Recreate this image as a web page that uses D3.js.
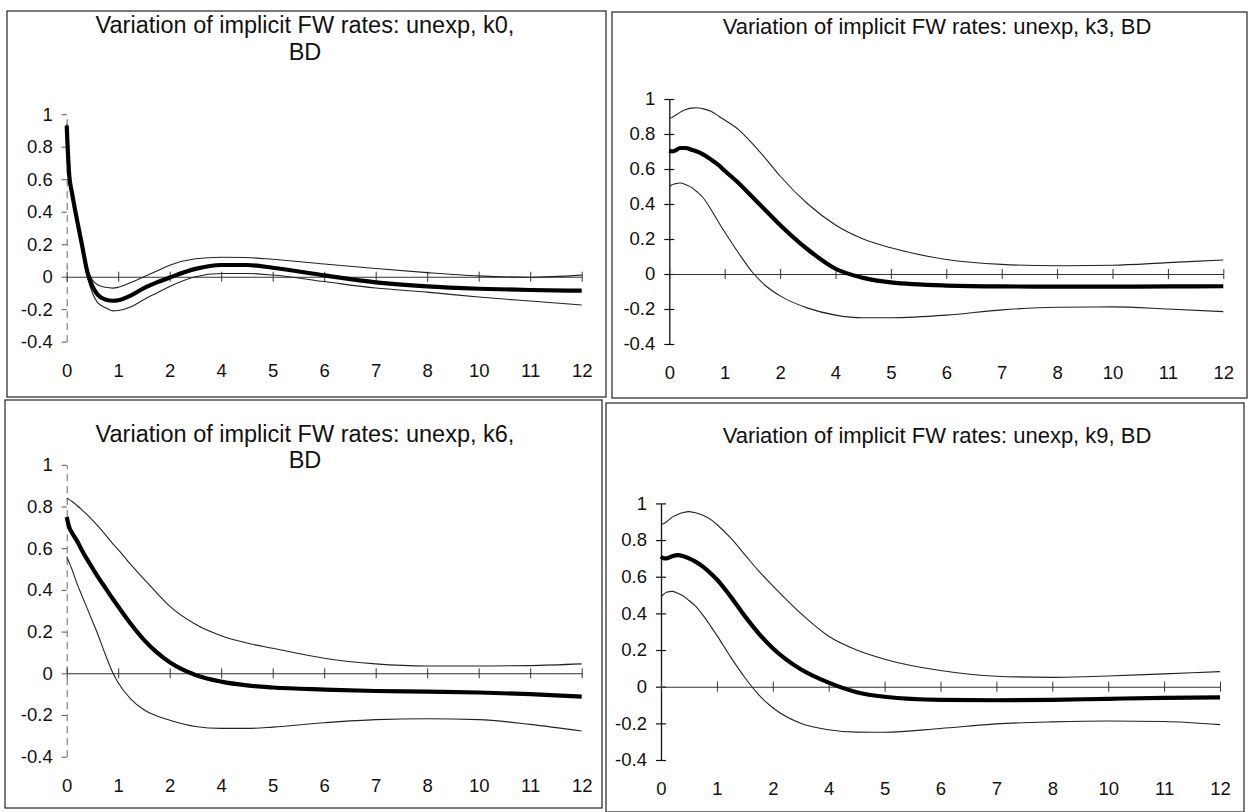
<html>
<head>
<meta charset="UTF-8">
<script src="https://d3js.org/d3.v7.min.js"></script>
<style>
body { margin: 0; background: #fff; }
text { font-family: "Liberation Sans", Arial, sans-serif; fill: #111; }
</style>
</head>
<body>
<svg id="chart" width="1255" height="812"></svg>
<script>
// categories printed under every panel (9 is not there in the original)
var xLabels = ["0", "1", "2", "4", "5", "6", "7", "8", "10", "11", "12"];
var yTicks = [1, 0.8, 0.6, 0.4, 0.2, 0, -0.2, -0.4];

// where the curves were read, in category steps (0 = first label, 10 = last)
var grid = [0, 0.05, 0.1, 0.2, 0.3, 0.4, 0.5, 0.6, 0.75, 0.9, 1, 1.25, 1.5, 1.75, 2, 2.5, 3, 3.5, 4, 5, 6, 7, 8, 9, 10];

// k0
var k0Mid = [0.93, 0.62, 0.52, 0.35, 0.19, 0.03, -0.06, -0.11, -0.14, -0.148, -0.145, -0.115, -0.07, -0.035, -0.005, 0.048, 0.072, 0.072, 0.055, 0.008, -0.035, -0.06, -0.074, -0.082, -0.086];
var k0Up = [0.94, 0.63, 0.53, 0.36, 0.2, 0.05, -0.02, -0.05, -0.065, -0.07, -0.065, -0.035, 0.0, 0.035, 0.07, 0.11, 0.12, 0.118, 0.107, 0.078, 0.05, 0.025, 0.005, -0.003, 0.01];
var k0Low = [0.92, 0.61, 0.51, 0.33, 0.17, 0.0, -0.1, -0.16, -0.19, -0.21, -0.208, -0.185, -0.14, -0.1, -0.06, 0.0, 0.02, 0.02, 0.01, -0.03, -0.07, -0.095, -0.125, -0.15, -0.174];

// k3
var k3Mid = [0.705, 0.70, 0.705, 0.72, 0.72, 0.71, 0.70, 0.685, 0.655, 0.62, 0.59, 0.52, 0.44, 0.36, 0.28, 0.14, 0.03, -0.022, -0.048, -0.066, -0.071, -0.072, -0.072, -0.071, -0.07];
var k3Up = [0.89, 0.895, 0.905, 0.925, 0.94, 0.948, 0.95, 0.945, 0.93, 0.9, 0.88, 0.825, 0.745, 0.655, 0.56, 0.40, 0.28, 0.2, 0.15, 0.083, 0.055, 0.047, 0.05, 0.065, 0.08];
var k3Low = [0.50, 0.51, 0.515, 0.52, 0.51, 0.495, 0.47, 0.44, 0.37, 0.29, 0.24, 0.12, 0.01, -0.07, -0.125, -0.195, -0.235, -0.25, -0.25, -0.235, -0.205, -0.19, -0.188, -0.2, -0.215];

// k6
var k6Mid = [0.75, 0.70, 0.675, 0.635, 0.588, 0.545, 0.505, 0.465, 0.41, 0.355, 0.32, 0.235, 0.16, 0.1, 0.053, -0.008, -0.04, -0.058, -0.068, -0.078, -0.085, -0.088, -0.092, -0.1, -0.112];
var k6Up = [0.84, 0.833, 0.825, 0.805, 0.783, 0.76, 0.735, 0.708, 0.665, 0.62, 0.593, 0.52, 0.452, 0.385, 0.322, 0.235, 0.18, 0.145, 0.12, 0.072, 0.045, 0.035, 0.035, 0.037, 0.045];
var k6Low = [0.56, 0.53, 0.50, 0.43, 0.37, 0.31, 0.25, 0.19, 0.09, 0.0, -0.045, -0.125, -0.175, -0.205, -0.225, -0.255, -0.264, -0.264, -0.258, -0.237, -0.222, -0.218, -0.222, -0.245, -0.277];

// k9
var k9Mid = [0.71, 0.70, 0.70, 0.712, 0.718, 0.712, 0.70, 0.685, 0.655, 0.615, 0.585, 0.49, 0.385, 0.29, 0.21, 0.095, 0.022, -0.03, -0.055, -0.072, -0.074, -0.072, -0.066, -0.061, -0.058];
var k9Up = [0.885, 0.89, 0.90, 0.925, 0.94, 0.95, 0.955, 0.95, 0.935, 0.91, 0.885, 0.81, 0.72, 0.63, 0.55, 0.40, 0.275, 0.2, 0.15, 0.088, 0.057, 0.051, 0.058, 0.07, 0.082];
var k9Low = [0.49, 0.505, 0.515, 0.52, 0.51, 0.495, 0.47, 0.445, 0.39, 0.325, 0.28, 0.16, 0.05, -0.045, -0.115, -0.2, -0.235, -0.248, -0.249, -0.228, -0.203, -0.192, -0.187, -0.19, -0.207];

var titles = [
	["Variation of implicit FW rates: unexp, k0,", "BD"],
	["Variation of implicit FW rates: unexp, k3, BD"],
	["Variation of implicit FW rates: unexp, k6,", "BD"],
	["Variation of implicit FW rates: unexp, k9, BD"]
];

// where each panel sits on the page
var panels = [
	{frame: [7, 11, 606, 397], x0: 66.7, x1: 581.7, yTop: 114.2, yBot: 341.7, tx: 305, ty: [33, 60], fs: 23.5, solid: false,
		mid: k0Mid, up: k0Up, low: k0Low, title: titles[0]},
	{frame: [612, 12, 1247, 398], x0: 669.3, x1: 1223.3, yTop: 99, yBot: 344, tx: 937, ty: [34], fs: 22, solid: true,
		mid: k3Mid, up: k3Up, low: k3Low, title: titles[1]},
	{frame: [5, 400, 602, 808], x0: 66.7, x1: 581.7, yTop: 464.8, yBot: 756.7, tx: 305, ty: [442, 468], fs: 23.5, solid: false,
		mid: k6Mid, up: k6Up, low: k6Low, title: titles[2]},
	{frame: [606, 403, 1244, 812], x0: 661, x1: 1220, yTop: 503.4, yBot: 760, tx: 937, ty: [443], fs: 22, solid: true,
		mid: k9Mid, up: k9Up, low: k9Low, title: titles[3]}
];

var svg = d3.select("#chart");

panels.forEach(function(p) {
	var g = svg.append("g");

	// box round the panel
	g.append("rect")
		.attr("x", p.frame[0]).attr("y", p.frame[1])
		.attr("width", p.frame[2] - p.frame[0]).attr("height", p.frame[3] - p.frame[1])
		.attr("fill", "none").attr("stroke", "#222").attr("stroke-width", 1.2);

	// title, one or two lines
	g.selectAll(".title").data(p.title).enter().append("text")
		.attr("class", "title")
		.attr("x", p.tx)
		.attr("y", (d, i) => p.ty[i])
		.attr("text-anchor", "middle")
		.style("font-size", p.fs + "px")
		.text(d => d);

	var xCat = d3.scalePoint().domain(xLabels).range([p.x0, p.x1]);
	var x = d3.scaleLinear().domain([0, xLabels.length - 1]).range([p.x0, p.x1]);
	var y = d3.scaleLinear().domain([-0.4, 1]).range([p.yBot, p.yTop]);

	// y axis
	var yAxis = g.append("g")
		.attr("transform", `translate(${p.x0},0)`)
		.call(d3.axisLeft(y).tickValues(yTicks).tickFormat(d => String(d))
			.tickSizeInner(5).tickSizeOuter(0).tickPadding(9));
	yAxis.selectAll("text").style("font-size", "18.5px").attr("fill", "#111");
	if (p.solid) {
		yAxis.select(".domain").attr("stroke", "#111").attr("stroke-width", 1.3);
		yAxis.selectAll(".tick line").attr("x1", 5).attr("x2", -5).attr("stroke", "#111").attr("stroke-width", 1.2);
	} else {
		yAxis.select(".domain").attr("stroke", "#666").attr("stroke-dasharray", "7,5");
		yAxis.selectAll(".tick line").attr("stroke", "#555");
	}

	// zero line with a tick at every category
	var zero = g.append("g")
		.attr("transform", `translate(0,${y(0)})`)
		.call(d3.axisBottom(xCat).tickFormat("").tickSizeInner(4).tickSizeOuter(0));
	zero.select(".domain").attr("stroke", "#333").attr("stroke-width", 1.1);
	zero.selectAll(".tick line").attr("y1", -5).attr("y2", 5).attr("stroke", "#333");

	// category labels under the plot
	var xAxis = g.append("g")
		.attr("transform", `translate(0,${p.yBot + 22})`)
		.call(d3.axisBottom(xCat).tickSize(0).tickPadding(0));
	xAxis.select(".domain").remove();
	xAxis.selectAll("text").style("font-size", "18.5px").attr("fill", "#111");

	var line = d3.line()
		.x((d, i) => x(grid[i]))
		.y(d => y(d))
		.curve(d3.curveMonotoneX);

	// error bands
	[p.up, p.low].forEach(function(s) {
		g.append("path")
			.datum(s)
			.attr("d", line)
			.attr("fill", "none")
			.attr("stroke", "#222")
			.attr("stroke-width", 1.1);
	});

	// response
	g.append("path")
		.datum(p.mid)
		.attr("d", line)
		.attr("fill", "none")
		.attr("stroke", "#000")
		.attr("stroke-width", 4.2)
		.attr("stroke-linejoin", "round");
});
</script>
</body>
</html>
